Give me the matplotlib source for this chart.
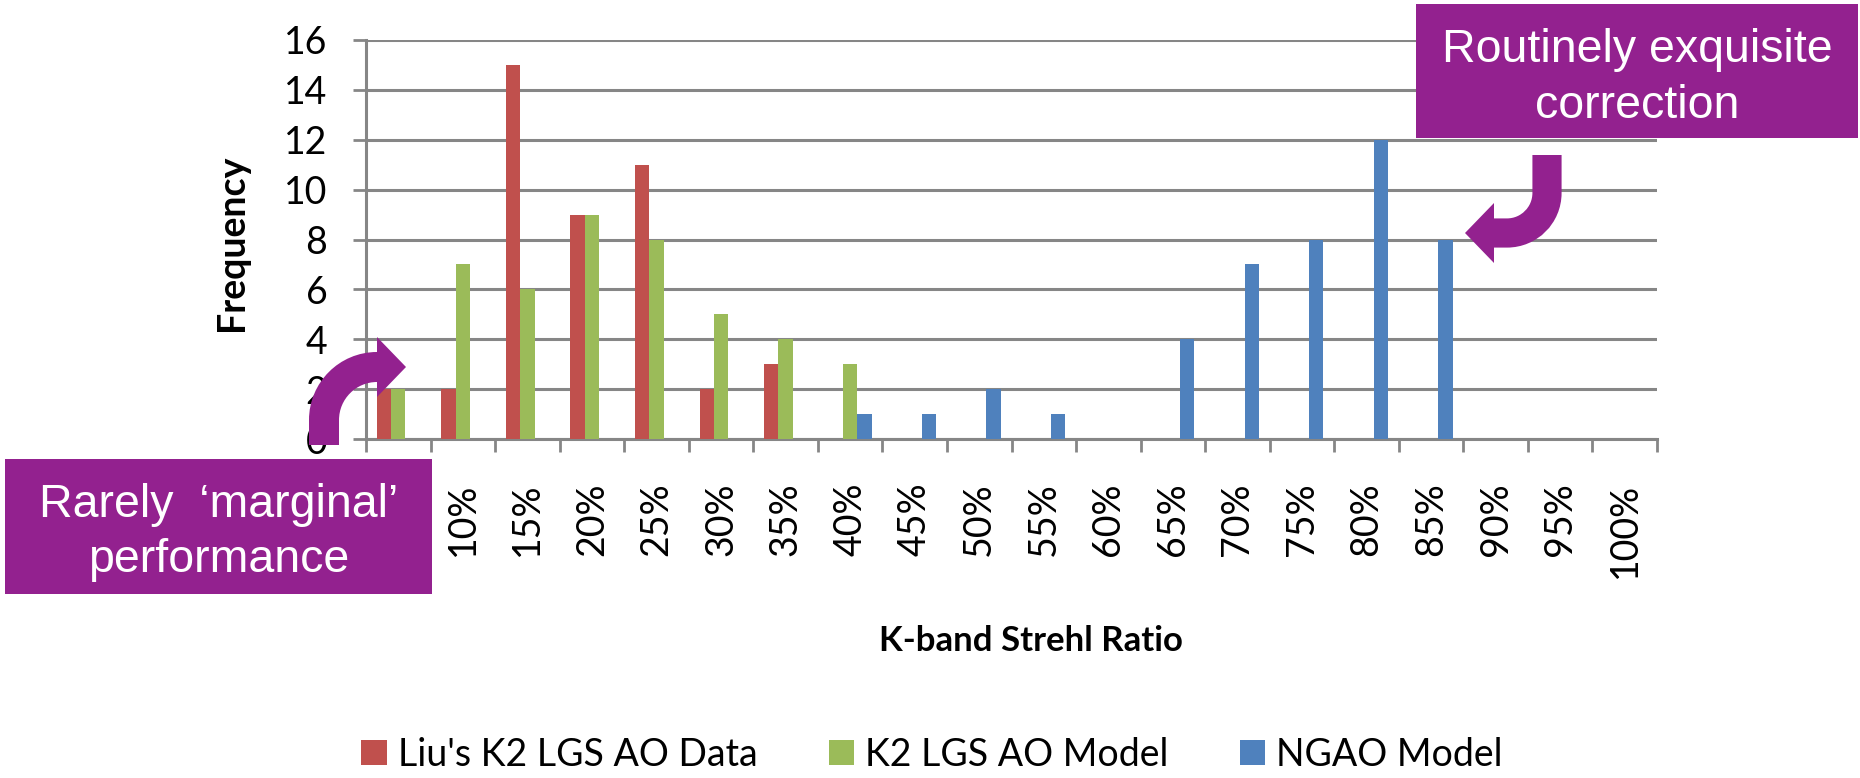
import numpy as np
import matplotlib
matplotlib.use('Agg')
import matplotlib.pyplot as plt
from matplotlib.path import Path
from matplotlib.patches import PathPatch, Polygon, Rectangle

# K-band Strehl ratio bins and counts per bin
strehl_bins = ['5%', '10%', '15%', '20%', '25%', '30%', '35%', '40%', '45%', '50%',
               '55%', '60%', '65%', '70%', '75%', '80%', '85%', '90%', '95%', '100%']
liu_k2_data = [2, 2, 15, 9, 11, 2, 3, 0, 0, 0, 0, 0, 0, 0, 0, 0, 0, 0, 0, 0]
k2_lgs_model = [2, 7, 6, 9, 8, 5, 4, 3, 0, 0, 0, 0, 0, 0, 0, 0, 0, 0, 0, 0]
ngao_model = [0, 0, 0, 0, 0, 0, 0, 1, 1, 2, 1, 0, 4, 7, 8, 12, 8, 0, 0, 0]

series_names = ["Liu's K2 LGS AO Data", 'K2 LGS AO Model', 'NGAO Model']
series_colors = ['#C0504D', '#9BBB59', '#4F81BD']

GRID_GRAY = '#868686'
PURPLE = '#93218F'
W, H = 1860, 778

plt.rcParams['font.family'] = ['Lato', 'DejaVu Sans']

fig = plt.figure(figsize=(W / 100, H / 100), dpi=100)
ax = fig.add_axes([366 / W, 1 - 439 / H, (1657 - 366) / W, (439 - 40) / H])

x = np.arange(len(strehl_bins))
bar_w = 1 / 4.5
for k, (vals, name, color) in enumerate(zip([liu_k2_data, k2_lgs_model, ngao_model],
                                            series_names, series_colors)):
    ax.bar(x + (k - 1) * bar_w, vals, width=bar_w, color=color, linewidth=0,
           label=name, zorder=3)

ax.set_xlim(-0.5, len(strehl_bins) - 0.5)
ax.set_ylim(0, 16)
ax.set_yticks(np.arange(0, 17, 2))
ax.yaxis.grid(True, color=GRID_GRAY, linewidth=2.2)
ax.set_axisbelow(True)

# category boundaries get the tick marks, labels sit on the bin centres
ax.set_xticks(np.arange(-0.5, len(strehl_bins)), labels=[])
ax.set_xticks(x, labels=strehl_bins, minor=True)
ax.tick_params(axis='x', which='major', length=9.4, width=2, color=GRID_GRAY)
ax.tick_params(axis='x', which='minor', length=0, pad=31.5, labelsize=27,
               labelrotation=90)
ax.tick_params(axis='y', length=9.4, width=2, color=GRID_GRAY, pad=18.5, labelsize=27)

for side in ['top', 'right']:
    ax.spines[side].set_visible(False)
for side in ['left', 'bottom']:
    ax.spines[side].set_color(GRID_GRAY)
    ax.spines[side].set_linewidth(2.2)

fig.text(232 / W, 1 - 243 / H, 'Frequency', rotation=90, ha='center', va='center',
         fontsize=27, fontweight='bold')
fig.text(1031 / W, 1 - 641 / H, 'K-band Strehl Ratio', ha='center', va='center',
         fontsize=25, fontweight='bold')

fig.legend(loc='center', bbox_to_anchor=(932 / W, 1 - 754.5 / H), ncol=3,
           frameon=False, fontsize=27, handlelength=0.67, handleheight=0.67,
           handletextpad=0.3, columnspacing=1.9, borderpad=0)

# call-out boxes and arrows, drawn in pixel coordinates on an overlay
over = fig.add_axes([0, 0, 1, 1], zorder=10)
over.set_xlim(0, W)
over.set_ylim(H, 0)
over.axis('off')
over.patch.set_alpha(0)


def callout(ax_, x0, y0, x1, y1, lines, baselines):
    ax_.add_patch(Rectangle((x0, y0), x1 - x0, y1 - y0, color=PURPLE, linewidth=0))
    cx = (x0 + x1) / 2
    for txt, yb in zip(lines, baselines):
        ax_.text(cx, yb, txt, ha='center', va='baseline', color='white',
                 fontsize=33.5, family=['Liberation Sans', 'DejaVu Sans'])


def bent_arrow(ax_, start, corner_c, r, end, head, lw):
    k = 0.5523 * r
    sx, sy = start
    cx, cy = corner_c
    if sy > cy:
        # shaft comes up, turns right
        p0 = (sx, cy)
        c1 = (sx, cy - k)
        p1 = (sx + r, cy - r)
        c2 = (p1[0] - k, p1[1])
    else:
        # shaft comes down, turns left
        p0 = (sx, cy)
        c1 = (sx, cy + k)
        p1 = (sx - r, cy + r)
        c2 = (p1[0] + k, p1[1])
    verts = [start, p0, c1, c2, p1, end]
    codes = [Path.MOVETO, Path.LINETO, Path.CURVE4, Path.CURVE4, Path.CURVE4, Path.LINETO]
    ax_.add_patch(PathPatch(Path(verts, codes), fill=False, edgecolor=PURPLE,
                            linewidth=lw, capstyle='butt', joinstyle='miter'))
    ax_.add_patch(Polygon(head, closed=True, color=PURPLE, linewidth=0))


callout(over, 1416, 4, 1858, 138, ['Routinely exquisite', 'correction'], [62, 118])
callout(over, 5, 459, 432, 594, ['Rarely  ‘marginal’', 'performance'], [517, 572])

bent_arrow(over, (324, 445), (377, 420), 53, (379, 367),
           [(377, 337), (406, 367), (377, 397)], 21.6)
bent_arrow(over, (1547, 155), (1507, 193), 40, (1492, 233),
           [(1494, 203), (1465, 233), (1494, 263)], 21)

fig.savefig('out.png', dpi=100)
